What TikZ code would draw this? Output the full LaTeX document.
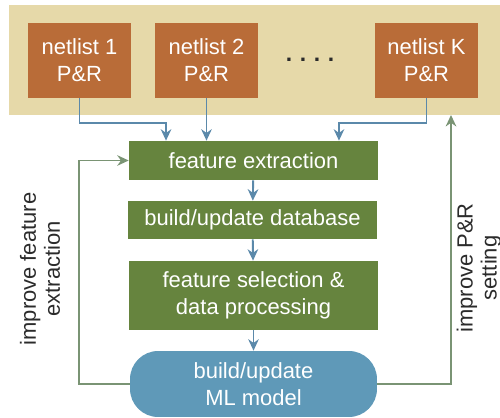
\documentclass[tikz,border=0pt]{standalone}
\usepackage{fontspec}
\setmainfont{Liberation Sans}
\usepackage{tikz}
\usetikzlibrary{positioning,calc,arrows.meta}
\definecolor{tanpanel}{HTML}{E6D9A9}
\definecolor{netorange}{HTML}{B96C38}
\definecolor{flowgreen}{HTML}{66843E}
\definecolor{modelblue}{HTML}{5F99B8}
\definecolor{arrowblue}{HTML}{5B89AA}
\definecolor{loopgreen}{HTML}{7A9474}
\definecolor{labeldark}{HTML}{2B2B2B}

\begin{document}
\begin{tikzpicture}[x=0.02cm, y=-0.02cm, netbox/.style={fill=netorange, text=white, minimum width=2.06cm, minimum height=1.5cm, inner sep=0pt, align=center, font=\fontsize{12.5}{15.4}\selectfont}, stage/.style={fill=flowgreen, text=white, minimum width=4.98cm, inner sep=0pt, align=center, font=\fontsize{12.5}{15.4}\selectfont}, arrow/.style={-{Stealth[length=6.5pt,width=6pt]}, draw=arrowblue, line width=1.1pt}, loop/.style={-{Stealth[length=6.5pt,width=6pt]}, draw=loopgreen, line width=1.1pt}, looplabel/.style={rotate=90, align=center, text=labeldark, font=\fontsize{12.5}{13.6}\selectfont}]
\useasboundingbox (0,0) rectangle (500,418);
\node[fill=tanpanel, minimum width=9.82cm, minimum height=2.2cm, inner sep=0pt] (panel) at (254.5,60) {};
\node[netbox] (n1) at (79.5,60.5) {netlist 1\\P\&R};
\node[netbox] (n2) at (206.5,60.5) {netlist 2\\P\&R};
\node[netbox] (nK) at (426.5,60.5) {netlist K\\P\&R};
\node[font=\fontsize{13}{15}\selectfont\bfseries, text=labeldark] (dots) at (310,60) {.\,\,.\,\,.\,\,.};
\node[stage, minimum height=0.78cm] (fe) at (253.5,160.5) {feature extraction};
\node[stage, minimum height=0.76cm] (db) at (252.5,220) {build/update database};
\node[stage, minimum height=1.38cm] (fs) at (253.5,295.5) {feature selection \&\\data processing};
\node[fill=modelblue, text=white, rounded corners=16pt, minimum width=4.94cm, minimum height=1.32cm, inner sep=0pt, align=center, font=\fontsize{12.5}{15.4}\selectfont] (ml) at (253.5,384) {build/update\\ML model};
\draw[arrow] (n1.south) -- ++(0,25) -| ([xshift=-1.75cm]fe.north);
\draw[arrow] (n2.south) -- (n2.south |- fe.north);
\draw[arrow] (nK.south) -- ++(0,25) -| ([xshift=1.71cm]fe.north);
\draw[arrow] (fe) -- (db);
\draw[arrow] (db) -- (fs);
\draw[arrow] (fs) -- (ml);
\coordinate (back) at (451,115);
\draw[loop] (ml.west) -- ++(-51,0) |- (fe.west);
\draw[loop] (ml.east) -| (back);
\node[looplabel] (leftlabel) at (40,269) {improve feature\\extraction};
\node[looplabel] (rightlabel) at (479,268) {improve P\&R\\setting};
\end{tikzpicture}
\end{document}
